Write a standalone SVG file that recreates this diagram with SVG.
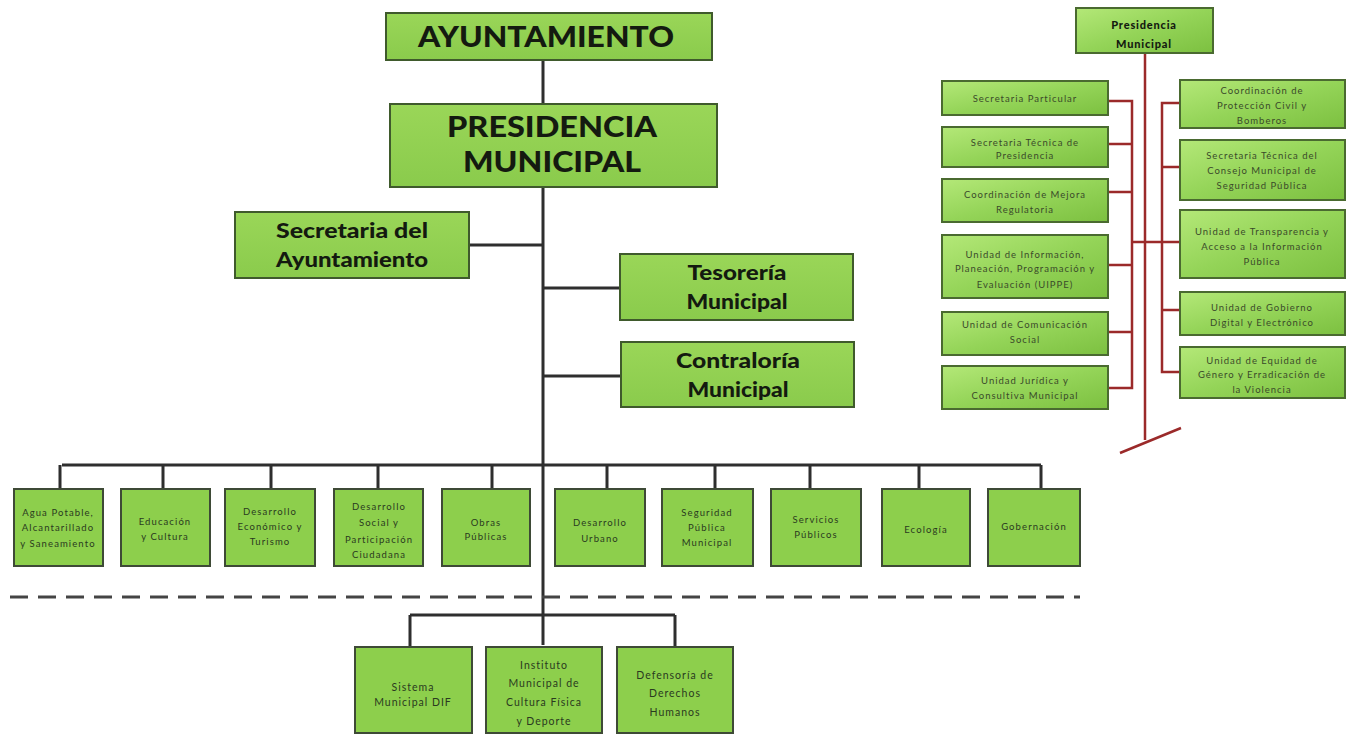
<svg xmlns="http://www.w3.org/2000/svg" width="1354" height="735" viewBox="0 0 1354 735">
<defs>
<linearGradient id="g1" x1="0" y1="0" x2="0" y2="1">
<stop offset="0" stop-color="#9ad658"/>
<stop offset="1" stop-color="#8acb4c"/>
</linearGradient>
<linearGradient id="g2" x1="0" y1="0" x2="1" y2="1">
<stop offset="0" stop-color="#b4e878"/>
<stop offset="0.5" stop-color="#94d458"/>
<stop offset="1" stop-color="#7cc040"/>
</linearGradient>
</defs>
<style>
.b{fill:url(#g1);stroke:#3f5a2c;stroke-width:2}
.s{fill:#8dcf4c;stroke:#3e4a36;stroke-width:2}
.r{fill:url(#g2);stroke:#4a6a30;stroke-width:2}
.t{font-family:Lato,"Liberation Sans",sans-serif;font-weight:900;fill:#141a10;text-anchor:middle}
.st{font-family:Lato,"Liberation Sans",sans-serif;fill:#2a3a20;text-anchor:middle;font-size:9.5px;letter-spacing:1.1px}
.dt{font-family:Lato,"Liberation Sans",sans-serif;fill:#2a3a20;text-anchor:middle;font-size:10.5px;letter-spacing:1px}
.rt{font-family:Lato,"Liberation Sans",sans-serif;fill:#3a4a2a;text-anchor:middle;font-size:9.5px;letter-spacing:1px}
.c{stroke:#2e2e2e;stroke-width:3;fill:none}
.rc{stroke:#9b2a2a;stroke-width:2.5;fill:none}
</style>
<rect width="1354" height="735" fill="#ffffff"/>
<g id="connectors">
<path class="c" d="M543 60V105M543 187V645M469 245H543M543 288H620M543 376H621M62 465H1041M60 465V489M163 465V489M271 465V489M378 465V489M492 465V489M607 465V489M715 465V489M810 465V489M919 465V489M1041 465V489M410 615H675M410 615V648M675 615V648"/>
<line x1="10" y1="597" x2="1080" y2="597" stroke="#444" stroke-width="3" stroke-dasharray="18 10"/>
<path class="rc" d="M1145 53V440M1120 453L1181 428M1108 101H1132V388H1108M1108 144H1132M1108 192H1132M1108 265H1132M1108 332H1132M1132 242H1180M1180 103H1162V372H1180M1162 167H1180M1162 310H1180"/>
</g>
<g id="ayuntamiento"><rect class="b" x="386" y="13" width="326" height="47"/><text class="t" x="546" y="47" font-size="28" textLength="256" lengthAdjust="spacingAndGlyphs">AYUNTAMIENTO</text></g>
<g id="presidencia"><rect class="b" x="390" y="104" width="327" height="83"/><text class="t" x="552" y="137" font-size="28" textLength="210" lengthAdjust="spacingAndGlyphs">PRESIDENCIA</text><text class="t" x="552" y="172" font-size="28" textLength="178" lengthAdjust="spacingAndGlyphs">MUNICIPAL</text></g>
<g id="secretaria"><rect class="b" x="235" y="212" width="234" height="66"/><text class="t" x="352" y="238" font-size="20" textLength="152" lengthAdjust="spacingAndGlyphs">Secretaria  del</text><text class="t" x="352" y="267" font-size="20" textLength="152" lengthAdjust="spacingAndGlyphs">Ayuntamiento</text></g>
<g id="tesoreria"><rect class="b" x="620" y="254" width="233" height="66"/><text class="t" x="737" y="280" font-size="20" textLength="99" lengthAdjust="spacingAndGlyphs">Tesorería</text><text class="t" x="737" y="309" font-size="20" textLength="101" lengthAdjust="spacingAndGlyphs">Municipal</text></g>
<g id="contraloria"><rect class="b" x="621" y="342" width="233" height="65"/><text class="t" x="738" y="368" font-size="20" textLength="124" lengthAdjust="spacingAndGlyphs">Contraloría</text><text class="t" x="738" y="397" font-size="20" textLength="101" lengthAdjust="spacingAndGlyphs">Municipal</text></g>

<g id="agua"><rect class="s" x="14" y="489" width="89" height="77"/><text class="st" x="58" y="516">Agua Potable,</text><text class="st" x="58" y="531">Alcantarillado</text><text class="st" x="58" y="547">y Saneamiento</text></g>
<g id="educacion"><rect class="s" x="121" y="489" width="89" height="77"/><text class="st" x="165" y="525">Educación</text><text class="st" x="165" y="540">y Cultura</text></g>
<g id="economico"><rect class="s" x="225" y="489" width="90" height="77"/><text class="st" x="270" y="515">Desarrollo</text><text class="st" x="270" y="530">Económico y</text><text class="st" x="270" y="545">Turismo</text></g>
<g id="social"><rect class="s" x="334" y="489" width="89" height="77"/><text class="st" x="379" y="510">Desarrollo</text><text class="st" x="379" y="526">Social y</text><text class="st" x="379" y="543">Participación</text><text class="st" x="379" y="558">Ciudadana</text></g>
<g id="obras"><rect class="s" x="442" y="489" width="88" height="77"/><text class="st" x="486" y="526">Obras</text><text class="st" x="486" y="540">Públicas</text></g>
<g id="urbano"><rect class="s" x="555" y="489" width="90" height="77"/><text class="st" x="600" y="526">Desarrollo</text><text class="st" x="600" y="542">Urbano</text></g>
<g id="seguridad"><rect class="s" x="662" y="489" width="91" height="77"/><text class="st" x="707" y="516">Seguridad</text><text class="st" x="707" y="531">Pública</text><text class="st" x="707" y="546">Municipal</text></g>
<g id="servicios"><rect class="s" x="771" y="489" width="90" height="77"/><text class="st" x="816" y="523">Servicios</text><text class="st" x="816" y="538">Públicos</text></g>
<g id="ecologia"><rect class="s" x="882" y="489" width="88" height="77"/><text class="st" x="926" y="533">Ecología</text></g>
<g id="gobernacion"><rect class="s" x="988" y="489" width="92" height="77"/><text class="st" x="1034" y="530">Gobernación</text></g>

<g id="dif"><rect class="s" x="355" y="647" width="117" height="86"/><text class="dt" x="413" y="691">Sistema</text><text class="dt" x="413" y="706">Municipal DIF</text></g>
<g id="instituto"><rect class="s" x="486" y="647" width="116" height="86"/><text class="dt" x="544" y="669">Instituto</text><text class="dt" x="544" y="687">Municipal de</text><text class="dt" x="544" y="706">Cultura Física</text><text class="dt" x="544" y="725">y Deporte</text></g>
<g id="defensoria"><rect class="s" x="617" y="647" width="116" height="86"/><text class="dt" x="675" y="679">Defensoría de</text><text class="dt" x="675" y="697">Derechos</text><text class="dt" x="675" y="716">Humanos</text></g>

<g id="r-presidencia"><rect class="r" x="1076" y="8" width="137" height="45"/><text class="t" x="1144" y="29" font-size="11" letter-spacing="0.8">Presidencia</text><text class="t" x="1144" y="48" font-size="11" letter-spacing="0.8">Municipal</text></g>
<g id="r-particular"><rect class="r" x="942" y="81" width="166" height="34"/><text class="rt" x="1025" y="102">Secretaria Particular</text></g>
<g id="r-tecnica"><rect class="r" x="942" y="127" width="166" height="40"/><text class="rt" x="1025" y="146">Secretaria Técnica de</text><text class="rt" x="1025" y="159">Presidencia</text></g>
<g id="r-mejora"><rect class="r" x="942" y="179" width="166" height="43"/><text class="rt" x="1025" y="198">Coordinación de Mejora</text><text class="rt" x="1025" y="213">Regulatoria</text></g>
<g id="r-uippe"><rect class="r" x="942" y="235" width="166" height="63"/><text class="rt" x="1025" y="258">Unidad de Información,</text><text class="rt" x="1025" y="272">Planeación, Programación y</text><text class="rt" x="1025" y="288">Evaluación (UIPPE)</text></g>
<g id="r-comunicacion"><rect class="r" x="942" y="312" width="166" height="43"/><text class="rt" x="1025" y="328">Unidad de Comunicación</text><text class="rt" x="1025" y="343">Social</text></g>
<g id="r-juridica"><rect class="r" x="942" y="366" width="166" height="43"/><text class="rt" x="1025" y="384">Unidad Jurídica y</text><text class="rt" x="1025" y="399">Consultiva Municipal</text></g>
<g id="r-proteccion"><rect class="r" x="1180" y="80" width="165" height="48"/><text class="rt" x="1262" y="94">Coordinación de</text><text class="rt" x="1262" y="109">Protección Civil y</text><text class="rt" x="1262" y="124">Bomberos</text></g>
<g id="r-consejo"><rect class="r" x="1180" y="140" width="165" height="60"/><text class="rt" x="1262" y="159">Secretaria Técnica del</text><text class="rt" x="1262" y="174">Consejo Municipal de</text><text class="rt" x="1262" y="189">Seguridad Pública</text></g>
<g id="r-transparencia"><rect class="r" x="1180" y="210" width="165" height="68"/><text class="rt" x="1262" y="235">Unidad de Transparencia y</text><text class="rt" x="1262" y="250">Acceso a la Información</text><text class="rt" x="1262" y="265">Pública</text></g>
<g id="r-digital"><rect class="r" x="1180" y="292" width="165" height="43"/><text class="rt" x="1262" y="311">Unidad de Gobierno</text><text class="rt" x="1262" y="326">Digital y Electrónico</text></g>
<g id="r-equidad"><rect class="r" x="1180" y="347" width="165" height="51"/><text class="rt" x="1262" y="364">Unidad de Equidad de</text><text class="rt" x="1262" y="378">Género y Erradicación de</text><text class="rt" x="1262" y="393">la Violencia</text></g>
</svg>
